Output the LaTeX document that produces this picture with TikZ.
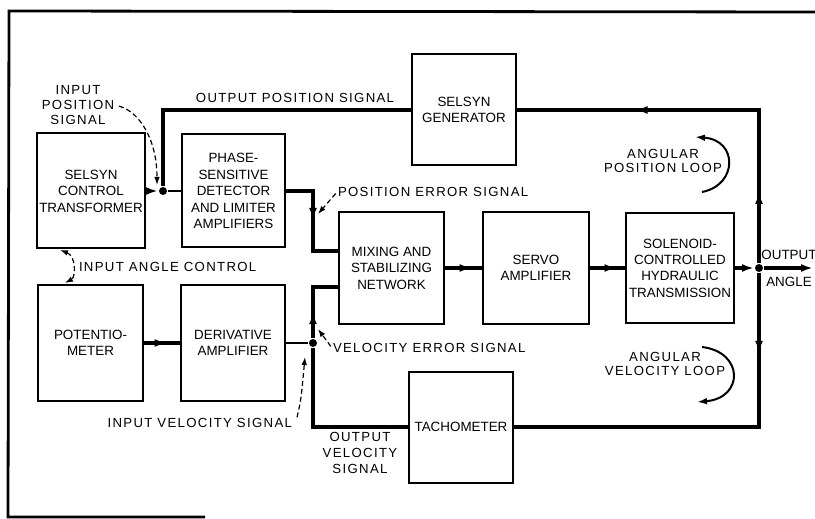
\documentclass[tikz,border=0pt]{standalone}
\usepackage{fontspec}
\setmainfont{Liberation Sans}
\newfontfamily\lblfont[LetterSpace=10]{Liberation Sans}
\usetikzlibrary{arrows.meta,decorations.markings}

\begin{document}
\begin{tikzpicture}[x=0.5pt,y=-0.5pt,font=\fontsize{6.7}{8.2}\selectfont,line width=1pt,
  blk/.style={draw,align=center,inner sep=1pt},
  conn/.style={line width=1.6pt,line join=miter},
  dot/.style={circle,fill,inner sep=0pt,minimum size=4pt},
  lbl/.style={font=\lblfont\fontsize{6.6}{7.5}\selectfont,align=center,inner sep=0pt},
  note/.style={line width=0.6pt,dash pattern=on 2.5pt off 1.5pt,-{Latex[length=4pt,width=2.8pt]}},
  loopar/.style={line width=1pt,-{Latex[length=5pt,width=3.4pt]}},
  midarr/.style={postaction={decorate,decoration={markings,mark=at position #1 with {\arrow{Latex[length=6pt,width=4pt]}}}}}]
  \useasboundingbox (0,0) rectangle (815,519);
  \draw[line width=1.4pt] (815,12) -- (9,11) -- (8,517) -- (205,517);
  \foreach \nm/\cx/\cy/\ww/\hh/\txt in {
    sct/91/191/104/115/{SELSYN\\CONTROL\\TRANSFORMER},
    psd/233.5/191/103/113/{PHASE-\\SENSITIVE\\DETECTOR\\AND LIMITER\\AMPLIFIERS},
    sgen/464/110/104/111/{SELSYN\\GENERATOR},
    mix/391.5/268/105/111/{MIXING AND\\STABILIZING\\NETWORK},
    servo/536/268/106/111/{SERVO\\AMPLIFIER},
    sol/680/268/108/110/{SOLENOID-\\CONTROLLED\\HYDRAULIC\\TRANSMISSION},
    pot/90.5/343/105/116/{POTENTIO-\\METER},
    der/233/343/104/116/{DERIVATIVE\\AMPLIFIER},
    tach/461/427/104/111/{TACHOMETER}}
    \node[blk,minimum width=\ww*0.5pt,minimum height=\hh*0.5pt] (\nm) at (\cx,\cy) {\txt};
  \node[dot] (dp) at (163,191) {};
  \node[dot] (dv) at (313,343) {};
  \node[dot] (dr) at (759,268) {};
  \coordinate (ctr) at (759,110);
  \coordinate (cbr) at (759,427);
  \coordinate (cbl) at (313,427);
  \coordinate (cm1) at (313,191);
  \coordinate (cm1b) at (313,251);
  \coordinate (cm2) at (313,287);
  \coordinate (out) at (813,268);
  \draw[conn,-{Latex[length=6pt,width=4pt]}] (sct.east) -- (dp);
  \draw (dp) -- (psd.west);
  \draw[conn] (dp) |- (sgen.west);
  \draw[conn,midarr=0.18,midarr=0.7] (dr) -- (ctr) -- (sgen.east);
  \draw[conn,midarr=0.2] (dr) -- (cbr) -- (tach.east);
  \draw[conn] (tach.west) -- (cbl) -- (dv);
  \draw (der.east) -- (dv);
  \draw[conn,midarr=0.34] (dv) -- (cm2) -- (cm2 -| mix.west);
  \draw[conn,midarr=0.5] (psd.east) -- (cm1) -- (cm1b) -- (cm1b -| mix.west);
  \draw[conn,midarr=0.72] (mix.east) -- (servo.west);
  \draw[conn,midarr=0.76] (servo.east) -- (sol.west);
  \draw[conn,-{Latex[length=6pt,width=4pt]}] (sol.east) -- (dr);
  \draw[conn,-{Latex[length=6pt,width=4pt]}] (dr) -- (out);
  \draw[conn,midarr=0.63] (pot.east) -- (der.west);
  \node[lbl] (ips) at (78,105) {INPUT\\POSITION\\SIGNAL};
  \node[lbl] (ops) at (295,98) {OUTPUT POSITION SIGNAL};
  \node[lbl,anchor=west] (pes) at (337,192) {POSITION ERROR SIGNAL};
  \node[lbl,anchor=west] (iac) at (78,267) {INPUT ANGLE CONTROL};
  \node[lbl,anchor=west] (ves) at (332,348) {VELOCITY ERROR SIGNAL};
  \node[lbl,anchor=east] (ivs) at (293,423) {INPUT VELOCITY SIGNAL};
  \node[lbl,font=\lblfont\fontsize{6.6}{8.2}\selectfont] (ovs) at (360,453) {OUTPUT\\VELOCITY\\SIGNAL};
  \node[lbl,font=\lblfont\fontsize{6.6}{7}\selectfont] (apl) at (663,161) {ANGULAR\\POSITION LOOP};
  \node[lbl,font=\lblfont\fontsize{6.6}{7}\selectfont] (avl) at (665,364) {ANGULAR\\VELOCITY LOOP};
  \node[inner sep=0pt,align=center] (oa) at (789,268) {OUTPUT\\[5.3pt]ANGLE};
  \coordinate (ipsend) at (157,185);
  \coordinate (peend) at (318,214);
  \coordinate (iaca) at (60,250);
  \coordinate (iacb) at (65,283);
  \coordinate (veend) at (318,329);
  \coordinate (ivend) at (305,357);
  \draw[note,shorten <=2pt] (ips.east) .. controls (140,112) and (157,140) .. (ipsend);
  \draw[note,shorten <=1pt] (pes.west) -- (peend);
  \draw[note,{Latex[length=4pt,width=2.8pt]}-{Latex[length=4pt,width=2.8pt]}] (iaca) .. controls (76,256) and (76,277) .. (iacb);
  \draw[note,shorten <=1pt] (ves.west) -- (veend);
  \draw[note] ([xshift=2pt]ivs.north east) .. controls (301,400) .. (ivend);
  \coordinate (apl1) at (702,192);
  \coordinate (apl2) at (695,137);
  \coordinate (avl1) at (702,347);
  \coordinate (avl2) at (697,402);
  \draw[loopar] (apl1) .. controls (738,185) and (738,140) .. (apl2);
  \draw[loopar] (avl1) .. controls (744,352) and (744,398) .. (avl2);
\end{tikzpicture}
\end{document}
